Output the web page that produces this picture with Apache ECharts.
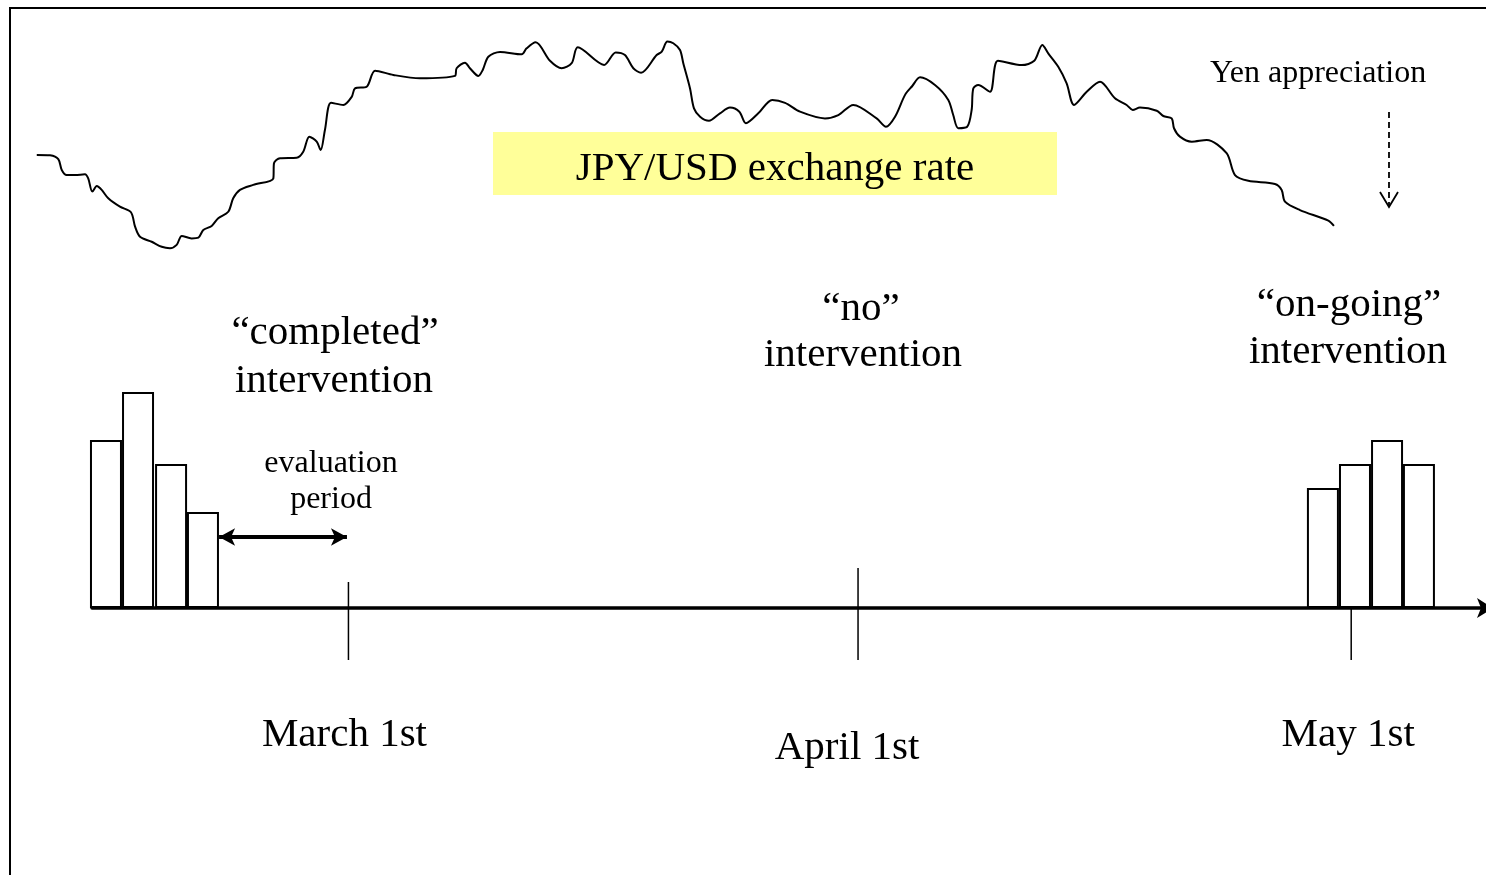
<!DOCTYPE html>
<html>
<head>
<meta charset="utf-8">
<title>JPY/USD exchange rate and intervention</title>
<script src="https://cdn.jsdelivr.net/npm/echarts@6.0.0/dist/echarts.min.js"></script>
<style>
  html, body { margin: 0; padding: 0; background: #fff; }
  #chart { width: 1486px; height: 875px; }
</style>
</head>
<body>
<div id="chart"></div>
<script>
// x is counted in days from Feb 1st (so March 1st = 28)
var tickDays = [28, 59, 89];
var tickLabels = ['March 1st', 'April 1st', 'May 1st'];

// intervention amounts, in arbitrary units
var completedDays = [13.25, 15.2, 17.21, 19.15];
var completedAmounts = [7, 9, 6, 4];
var ongoingDays = [87.28, 89.23, 91.18, 93.12];
var ongoingAmounts = [5, 6, 7, 6];

// evaluation period after the completed intervention (start, end day)
var evalPeriod = [20.13, 27.91];

// JPY/USD exchange rate
var rateDays = [9.04, 9.85, 10.35, 10.56, 10.86, 11.37, 11.97, 12.17, 12.42, 12.69,
  12.99, 13.39, 14.10, 14.77, 15.02, 15.32, 16.03, 16.64, 17.14, 17.55,
  17.86, 18.46, 18.87, 19.17, 19.68, 20.08, 20.69, 20.99, 21.40, 22.21,
  23.43, 23.47, 23.84, 24.85, 25.25, 25.62, 26.07, 26.31, 26.57, 26.94,
  27.69, 28.20, 28.40, 29.11, 29.62, 30.73, 32.35, 34.48, 34.58, 35.09,
  35.39, 35.90, 36.17, 36.51, 37.22, 38.54, 38.84, 39.39, 40.26, 40.97,
  41.58, 41.95, 43.55, 44.26, 44.82, 45.33, 45.80, 46.75, 47.06, 47.40,
  47.76, 48.17, 48.37, 48.78, 49.02, 49.39, 49.93, 50.60, 51.21, 51.78,
  52.18, 52.93, 53.78, 54.56, 55.47, 56.99, 57.80, 58.71, 60.13, 60.70,
  61.25, 61.86, 62.30, 62.77, 63.68, 64.49, 64.79, 65.10, 65.64, 65.91,
  66.01, 66.31, 67.03, 67.51, 68.96, 69.72, 70.21, 70.57, 71.18, 71.69,
  72.14, 72.91, 73.72, 74.63, 75.34, 75.71, 76.15, 77.17, 77.57, 78.08,
  78.22, 78.58, 79.30, 80.21, 81.42, 81.93, 82.74, 84.36, 84.77, 84.97,
  85.88, 87.61, 87.95];
var rateValues = [113.88, 113.86, 113.70, 113.25, 113.04, 113.04, 113.07, 112.90, 112.35, 112.58,
  112.42, 112.07, 111.72, 111.49, 110.89, 110.47, 110.26, 110.05, 109.99, 110.13,
  110.50, 110.40, 110.43, 110.75, 110.92, 111.24, 111.51, 112.07, 112.42, 112.63,
  112.90, 113.53, 113.74, 113.76, 114.01, 114.64, 114.43, 114.08, 114.92, 116.05,
  115.96, 116.30, 116.65, 116.72, 117.39, 117.21, 117.07, 117.17, 117.49, 117.72,
  117.49, 117.17, 117.42, 117.97, 118.17, 118.07, 118.32, 118.57, 117.80, 117.49,
  117.70, 118.36, 117.63, 118.15, 118.04, 117.49, 117.30, 118.04, 118.18, 118.60,
  118.53, 118.25, 117.70, 116.65, 115.82, 115.47, 115.30, 115.61, 115.85, 115.68,
  115.20, 115.61, 116.17, 116.05, 115.68, 115.40, 115.54, 115.96, 115.40, 115.05,
  115.47, 116.38, 116.75, 117.11, 116.79, 116.17, 115.54, 114.99, 115.05, 115.75,
  116.65, 116.79, 116.51, 117.80, 117.62, 117.80, 118.46, 118.11, 117.55, 116.86,
  115.96, 116.51, 116.93, 116.24, 115.96, 115.75, 115.85, 115.72, 115.50, 115.40,
  114.99, 114.64, 114.43, 114.50, 113.95, 113.04, 112.80, 112.67, 112.42, 111.93,
  111.58, 111.14, 110.92];

var SERIF = '"Liberation Serif", "Times New Roman", serif';

// how far each date tick reaches above the axis, and where its label sits
var tickRise = [26, 40, 0];
var tickLabelDrop = [127, 140, 127];
var tickLabelShift = [-4, -11, -3];

function txt(text, x, y, size) {
  return {
    type: 'text', x: x, y: y, z: 10,
    style: {
      text: text, font: size + 'px ' + SERIF, fill: '#000',
      textAlign: 'center', textVerticalAlign: 'middle',
      align: 'center', verticalAlign: 'middle'
    }
  };
}

var barData = [];
completedDays.forEach(function (d, i) { barData.push([d, completedAmounts[i]]); });
ongoingDays.forEach(function (d, i) { barData.push([d, ongoingAmounts[i]]); });

var rateData = rateDays.map(function (d, i) { return [d, rateValues[i]]; });
var tickData = tickDays.map(function (d, i) { return [d, 0, tickLabels[i]]; });

var chart = echarts.init(document.getElementById('chart'));
chart.setOption({
  animation: false,
  backgroundColor: '#fff',
  grid: [
    { left: 92, right: 0, top: 8, bottom: 267 },
    // same day scale, reaching further left for the exchange-rate line
    { left: 19.67, right: 0, top: 8, bottom: 267 }
  ],
  xAxis: [
    {
      type: 'value', gridIndex: 0, min: 12.4, max: 97.2,
      axisLine: {
        show: true, onZero: false,
        symbol: ['none', 'arrow'], symbolSize: [15, 16], symbolOffset: [0, 7],
        lineStyle: { color: '#000', width: 3.5 }
      },
      axisTick: { show: false }, axisLabel: { show: false }, splitLine: { show: false }
    },
    { type: 'value', gridIndex: 1, min: 8, max: 97.2, show: false, splitLine: { show: false } }
  ],
  yAxis: [
    { type: 'value', gridIndex: 0, min: 0, max: 25, show: false, splitLine: { show: false } },
    { type: 'value', gridIndex: 1, min: 95, max: 120, show: false, splitLine: { show: false } }
  ],
  graphic: [
    { type: 'rect', shape: { x: 10, y: 8, width: 1600, height: 1000 },
      style: { fill: 'none', stroke: '#000', lineWidth: 2 } },
    { type: 'rect', shape: { x: 493, y: 132, width: 564, height: 63 },
      style: { fill: '#ffff99' }, z: 1 },
    txt('JPY/USD exchange rate', 775, 169, 41),
    txt('Yen appreciation', 1318, 74, 32),
    { type: 'line', shape: { x1: 1389, y1: 112, x2: 1389, y2: 205 },
      style: { stroke: '#000', lineWidth: 1.8, lineDash: [6, 4] } },
    { type: 'polyline', shape: { points: [[1380, 192], [1389, 207], [1398, 192]] },
      style: { stroke: '#000', lineWidth: 1.8, fill: 'none' } },
    txt('\u201Ccompleted\u201D', 335, 333, 41),
    txt('intervention', 334, 381, 41),
    txt('\u201Cno\u201D', 861, 309, 41),
    txt('intervention', 863, 355, 41),
    txt('\u201Con-going\u201D', 1349, 305, 41),
    txt('intervention', 1348, 352, 41),
    txt('evaluation', 331, 464, 32),
    txt('period', 331, 500, 32)
  ],
  series: [
    {
      name: 'JPY/USD', type: 'line', xAxisIndex: 1, yAxisIndex: 1, data: rateData,
      smooth: 0.3, symbol: 'none', clip: false, silent: true,
      lineStyle: { color: '#000', width: 2 }
    },
    {
      name: 'Intervention', type: 'bar', xAxisIndex: 0, yAxisIndex: 0, data: barData,
      barWidth: 32, clip: false, silent: true,
      itemStyle: { color: '#fff', borderColor: '#000', borderWidth: 2 },
      markLine: {
        silent: true, symbol: ['arrow', 'arrow'], symbolSize: [13, 16],
        label: { show: false },
        lineStyle: { color: '#000', width: 4, type: 'solid' },
        data: [[{ coord: [evalPeriod[0], 2.96] }, { coord: [evalPeriod[1], 2.96] }]]
      }
    },
    {
      name: 'Dates', type: 'custom', xAxisIndex: 0, yAxisIndex: 0, data: tickData,
      clip: false, silent: true,
      renderItem: function (params, api) {
        var i = params.dataIndex;
        var p = api.coord([api.value(0), 0]);
        return {
          type: 'group',
          children: [
            { type: 'line',
              shape: { x1: p[0], y1: p[1] - tickRise[i], x2: p[0], y2: p[1] + 52 },
              style: { stroke: '#000', lineWidth: 1.5 } },
            { type: 'text', x: p[0] + tickLabelShift[i], y: p[1] + tickLabelDrop[i],
              style: { text: tickLabels[i], font: '41px ' + SERIF, fill: '#000',
                textAlign: 'center', textVerticalAlign: 'middle',
                align: 'center', verticalAlign: 'middle' } }
          ]
        };
      }
    }
  ]
});
</script>
</body>
</html>
